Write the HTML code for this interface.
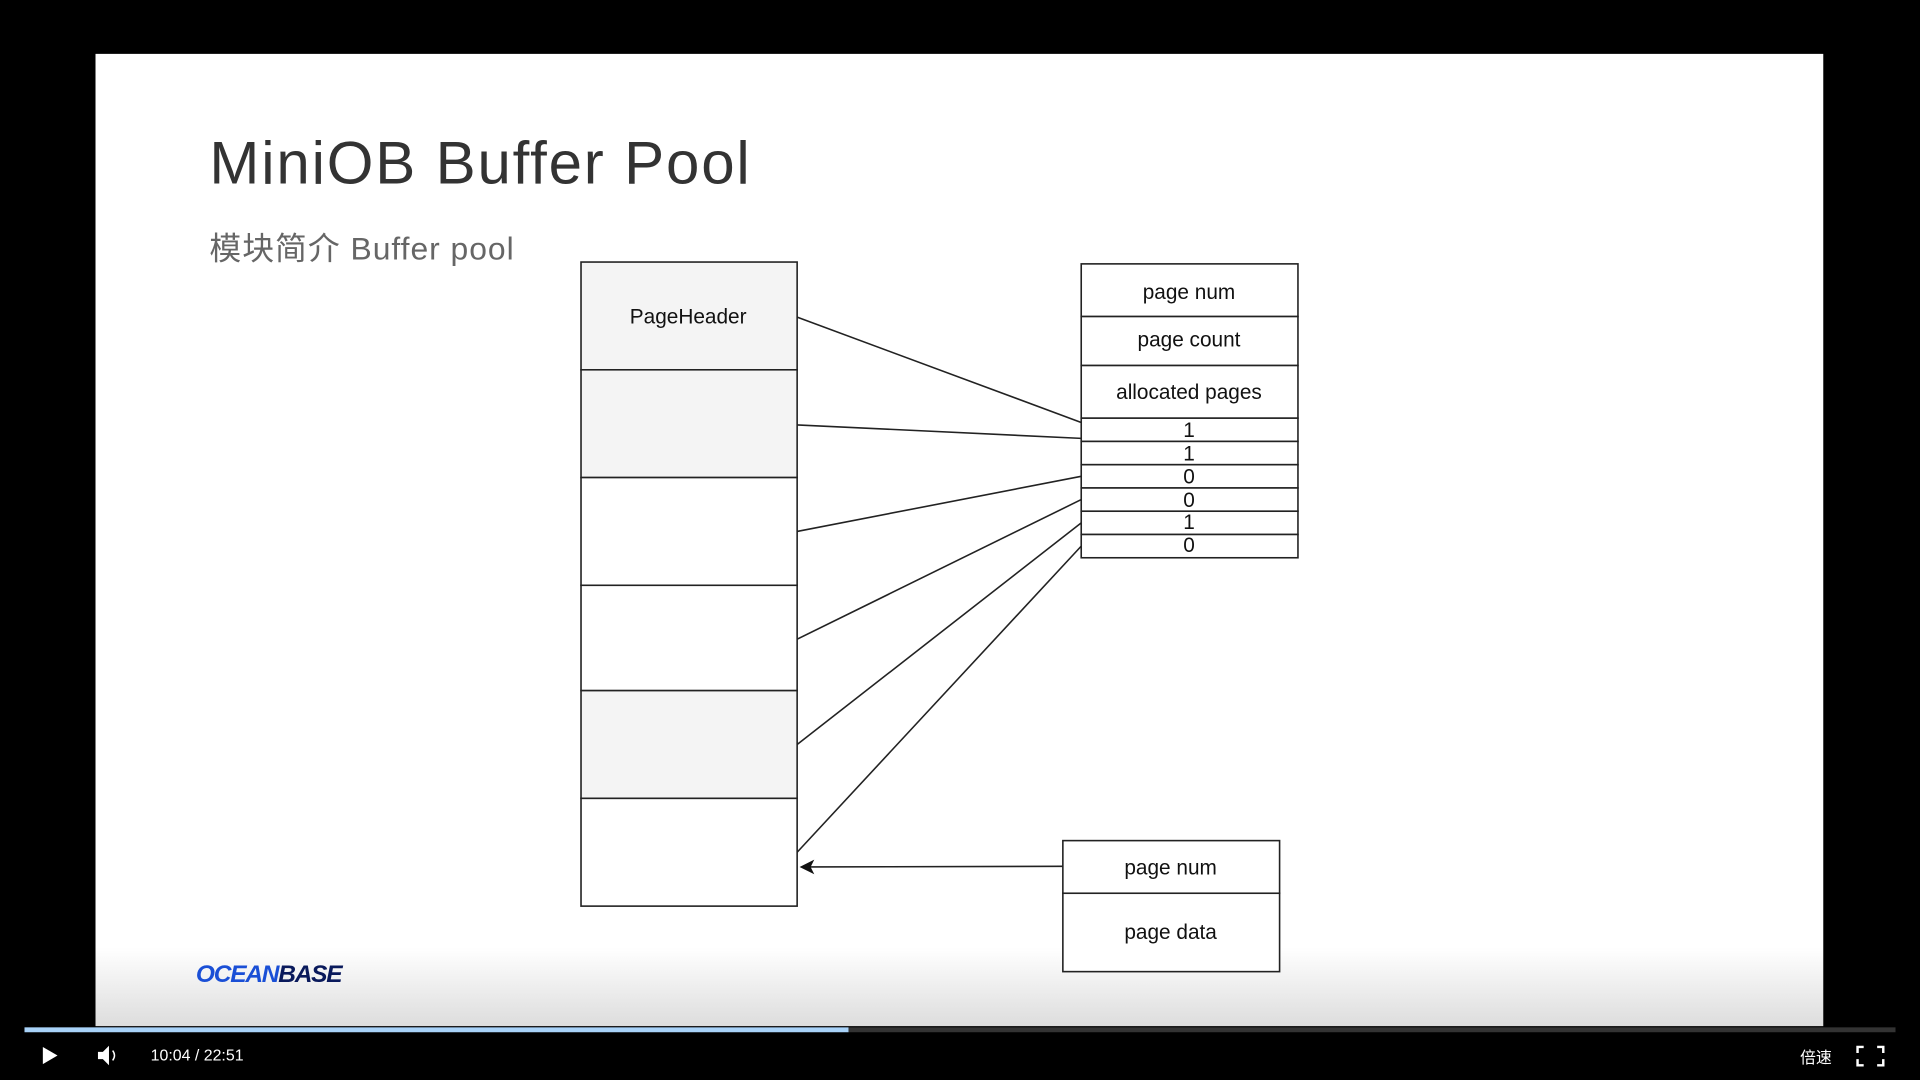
<!DOCTYPE html>
<html><head><meta charset="utf-8"><style>
html,body{margin:0;padding:0;background:#000;width:1920px;height:1080px;overflow:hidden}
#w{position:absolute;left:0;top:0;width:1568px;height:882px;transform:scale(1.22449);transform-origin:0 0;font-family:"Liberation Sans","Noto Sans CJK SC",sans-serif}
.slide{position:absolute;left:78px;top:44px;width:1411px;height:794px;background:linear-gradient(to bottom,#fff 0,#fff 730px,#ddd 794px)}
.t{position:absolute;white-space:nowrap}
</style></head><body><div id="w">
<div class="slide"></div>
<div class="t" style="left:171px;top:106px;font-size:49px;color:#333;letter-spacing:1.5px">MiniOB Buffer Pool</div>
<div class="t" style="left:171px;top:183px;font-size:26px;color:#666;letter-spacing:0.8px">模块简介 Buffer pool</div>
<svg style="position:absolute;left:0;top:0" width="1568" height="882" font-family="Liberation Sans, sans-serif" font-size="17">
<g stroke="#222" stroke-width="1.3">
<rect x="474.5" y="214" width="176.5" height="88" fill="#f4f4f4"/>
<rect x="474.5" y="302" width="176.5" height="88" fill="#f4f4f4"/>
<rect x="474.5" y="390" width="176.5" height="88" fill="#fff"/>
<rect x="474.5" y="478" width="176.5" height="86" fill="#fff"/>
<rect x="474.5" y="564" width="176.5" height="88" fill="#f4f4f4"/>
<rect x="474.5" y="652" width="176.5" height="88" fill="#fff"/>
<rect x="883" y="215.5" width="177" height="43" fill="#fff"/>
<rect x="883" y="258.5" width="177" height="40" fill="#fff"/>
<rect x="883" y="298.5" width="177" height="43" fill="#fff"/>
<rect x="883" y="341.5" width="177" height="19" fill="#fff"/>
<rect x="883" y="360.5" width="177" height="19" fill="#fff"/>
<rect x="883" y="379.5" width="177" height="19" fill="#fff"/>
<rect x="883" y="398.5" width="177" height="19" fill="#fff"/>
<rect x="883" y="417.5" width="177" height="19" fill="#fff"/>
<rect x="883" y="436.5" width="177" height="19" fill="#fff"/>
<rect x="868" y="686.5" width="177" height="43" fill="#fff"/>
<rect x="868" y="729.5" width="177" height="64" fill="#fff"/>
<line x1="651" y1="259" x2="883" y2="345"/>
<line x1="651" y1="347" x2="883" y2="358"/>
<line x1="651" y1="434" x2="883" y2="389"/>
<line x1="651" y1="522" x2="883" y2="408"/>
<line x1="651" y1="608" x2="883" y2="427"/>
<line x1="651" y1="696" x2="883" y2="446"/>
<line x1="868" y1="707.5" x2="660" y2="708"/>
</g>
<polygon points="653,708 665,702 662,708 665,714" fill="#111"/>
<g fill="#111" text-anchor="middle">
<text x="562" y="264">PageHeader</text>
<text x="971" y="244">page num</text>
<text x="971" y="283">page count</text>
<text x="971" y="326">allocated pages</text>
<text x="971" y="357">1</text><text x="971" y="376">1</text><text x="971" y="395">0</text>
<text x="971" y="414">0</text><text x="971" y="432">1</text><text x="971" y="451">0</text>
<text x="956" y="714">page num</text>
<text x="956" y="767">page data</text>
</g>
<rect x="20" y="839" width="673" height="4" fill="#a8d2f8"/>
<rect x="693" y="839" width="855" height="4" fill="#333"/>
<polygon points="35,855 47,862 35,869" fill="#fff"/>
<polygon points="80,859 84,859 89,854 89,870 84,865 80,865" fill="#fff"/>
<path d="M92,858 Q95,862 92,866" stroke="#fff" fill="none" stroke-width="1.2"/>
<g stroke="#fff" stroke-width="2" fill="none">
<path d="M1517,860v-5h5M1533,855h5v5M1538,865v5h-5M1522,870h-5v-5"/>
</g>
</svg>
<div class="t" style="left:160px;top:785px;font-size:20px;font-weight:bold;font-style:italic;color:#1a4fd6;letter-spacing:-1px">OCEAN<span style="color:#0a1a5c">BASE</span></div>
<div class="t" style="left:123px;top:854px;font-size:13px;color:#fff">10:04 / 22:51</div>
<div class="t" style="left:1470px;top:853px;font-size:13px;color:#fff">倍速</div>
</div></body></html>
